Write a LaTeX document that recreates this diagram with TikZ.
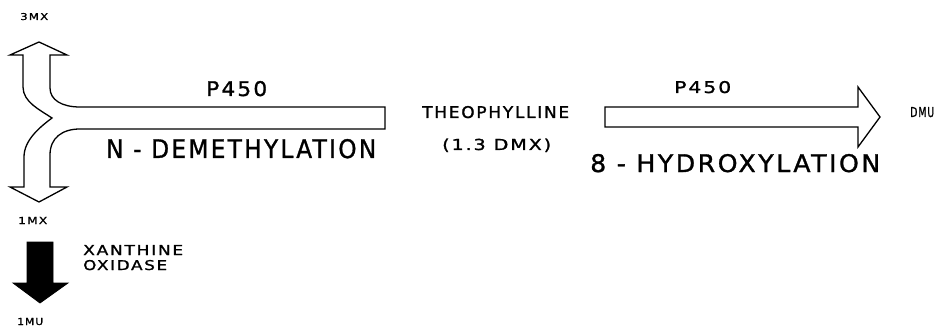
\documentclass[tikz,border=0pt]{standalone}
\usepackage{fontspec}
\setmainfont{DejaVu Sans}[LetterSpace=10,FakeBold=1.2]
\newcommand{\fitlbl}[3]{\resizebox{#1pt}{#2pt}{#3}}
\begin{document}
\begin{tikzpicture}[x=1pt,y=-1pt,
  lbl/.style={inner sep=0pt,anchor=base west},
  outl/.style={draw=black,line width=1.3pt,line join=miter,fill=white},
  solid arrow/.style={draw=black,fill=black,line width=0.8pt}]
\useasboundingbox (0,0) rectangle (944,331);
% labels
\node[lbl] (t3mx) at (20,20) {\fitlbl{28}{7}{3MX}};
\node[lbl] (t1mx) at (18,224) {\fitlbl{29}{7}{1MX}};
\node[lbl] (t1mu) at (17,325) {\fitlbl{26}{7}{1MU}};
\node[lbl] (xan) at (83,255) {\fitlbl{100}{10}{XANTHINE}};
\node[lbl] (oxi) at (83,270) {\fitlbl{84}{10}{OXIDASE}};
\node[lbl] (p450a) at (206,96) {\fitlbl{61}{15}{P450}};
\node[lbl] (ndem) at (106,158) {\fitlbl{270}{19}{N - DEMETHYLATION}};
\node[lbl] (theo) at (422,118) {\fitlbl{147}{12}{THEOPHYLLINE}};
\node[lbl] (omx) at (442,150) {\fitlbl{109}{11.5}{(1.3 DMX)}};
\node[lbl] (p450b) at (674,93) {\fitlbl{57}{12}{P450}};
\node[lbl] (hyd) at (590,172) {\fitlbl{290}{18}{8 - HYDROXYLATION}};
\node[lbl] (dmu) at (910,117) {\fitlbl{24}{10}{DMU}};
% branching N-demethylation arrow
\coordinate (barTR) at (385,107);
\coordinate (barBR) at (385,129);
\coordinate (cusp) at (52,118);
\path[outl] (barTR) -- (80,107)
  .. controls (62,107) and (50,100) .. (50,88)
  -- (50,55) -- (67,55) -- (39,42) -- (10,55) -- (23,55) -- (23,87)
  .. controls (23,102) and (40,110) .. (cusp)
  .. controls (40,127) and (24,140) .. (24,157)
  -- (24,187) -- (10,187) -- (39,202) -- (67,187) -- (50,187) -- (50,155)
  .. controls (50,138) and (62,129) .. (80,129)
  -- (barBR) -- cycle;
% 8-hydroxylation arrow
\path[outl] (605,107) -- (858,107) -- (858,87) -- (880,117) -- (858,147)
  -- (858,127) -- (605,127) -- cycle;
% xanthine oxidase arrow
\path[solid arrow] (27,242) -- (53,242) -- (53,283) -- (68,283) -- (40,303)
  -- (13,283) -- (27,283) -- cycle;
\end{tikzpicture}
\end{document}
